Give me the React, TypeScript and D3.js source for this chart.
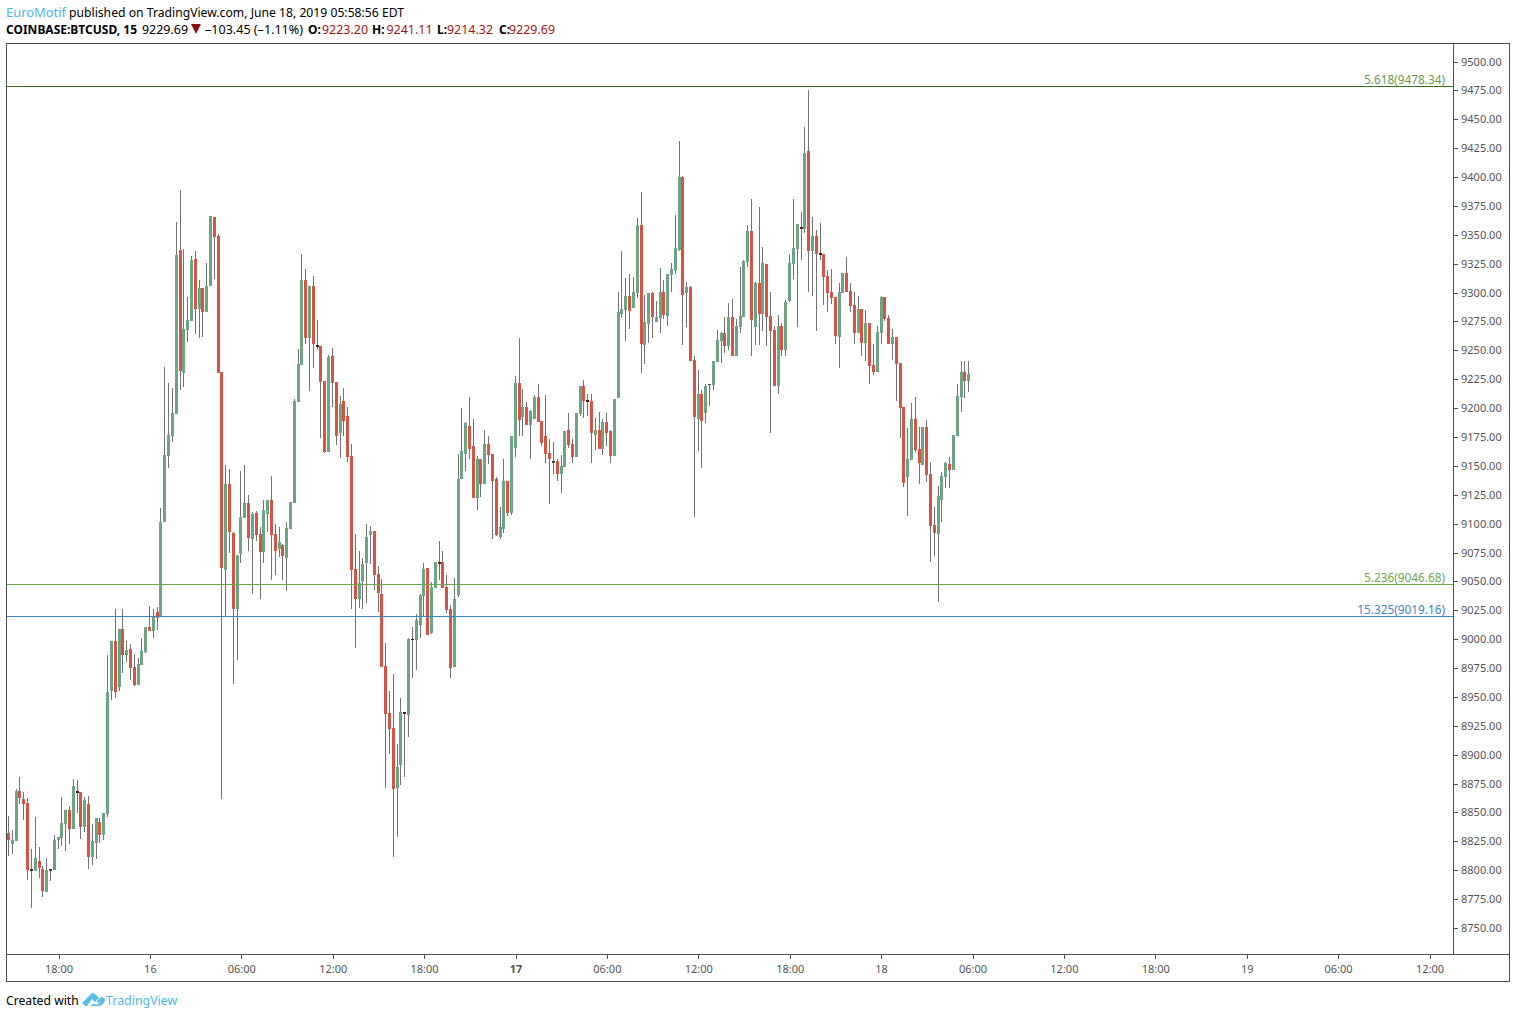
import React from "react";
import * as d3 from "d3";

const opens = [
8832.1,8822.6,8825.2,8868.5,8861.6,8858.1,8801,8799.3,8807.9,8801,
8781.1,8799.3,8800.1,8826,8827.8,8839.9,8852,8835.6,8868.5,8867.6,
8837.3,8857.2,8811.4,8823.5,8841.7,8830.4,8848.6,8955,8998.3,8958.5,
9008.7,8986.2,8991.4,8975.8,8960.2,8977.5,8988.8,9010.4,9007,9023.4,
9020,9101.4,9158.5,9175.8,9194.9,9336.8,9230.4,9267.6,9275.4,9329,
9285.7,9303.9,9283.2,9305.7,9365.4,9349,9231.2,9059.8,9134.2,9091.8,
9026,9073.6,9104.8,9117.8,9086.6,9109.1,9091,9075.4,9108.3,9120.4,
9091,9078,9081.4,9070.2,9095.3,9117.8,9205.3,9237.3,9310.9,9260.6,
9305.6,9254.6,9253.7,9223.4,9162,9245,9222.6,9178.4,9206.1,9193.1,
9158.5,9060.7,9034.7,9050.3,9065.9,9090.1,9093.6,9056.4,9039,8976.7,
8936,8923,8871.1,8891,8936.9,8934.3,9000,8999.2,9012.2,9037.3,
9061.5,9005.2,9044.2,9066.7,9066.7,9045,9026,8975.8,9038.1,9138.6,
9160.3,9184.5,9167.2,9122.2,9155.9,9134.3,9168.9,9160.3,9138.6,9088.4,
9095.4,9136.9,9109.2,9165.5,9221.7,9192.3,9201,9185.4,9190.6,9209.6,
9188.8,9175.9,9161.1,9152.5,9154.2,9143,9149,9181,9168.9,9157.7,
9194.9,9219.1,9207,9206.1,9176.7,9181,9164.6,9188,9180.2,9158.5,
9208.7,9281.4,9284.9,9297,9286.6,9299.6,9358.5,9254.6,9272.8,9299.6,
9274.5,9278,9300.5,9279.7,9315.2,9319.5,9336.8,9400,9299.6,9304.8,
9241.6,9190.6,9212.2,9195.8,9220,9220,9239.9,9258.1,9265,9253.7,
9278.8,9245.1,9270.2,9278.8,9326.4,9353.3,9270.2,9308.3,9281.4,9324.7,
9279.7,9267.6,9219.1,9271,9250.2,9292.7,9324.7,9337.7,9356.7,9355,
9422.5,9335.9,9348.9,9334.2,9333.3,9314.3,9300.4,9296.1,9261.5,9299.6,
9316.9,9301.3,9289.2,9264.9,9285.7,9256.3,9273.6,9237.3,9231.2,9264.9,
9296.1,9278,9255.5,9261.5,9239,9200.9,9140.4,9155.1,9190.6,9164.6,
9150.7,9183.6,9143,9098.8,9091,9120.4,9140.4,9151.6,9146.4,9175.8,
9209.6,9231.2,9223.2];

const closes = [
8826.1,8826,8868.5,8862.4,8857.2,8800.1,8799.3,8810.5,8801.8,8781.9,
8800.1,8801,8826,8828.7,8840.8,8852,8835.6,8872.8,8866.8,8837.3,
8860.7,8811.4,8825.2,8845.1,8830.4,8849.4,8954.2,8998.3,8954.2,9008.7,
8986.2,8990.5,8974.9,8960.2,8978.4,8989.7,9010.4,9007,9020,9018.2,
9101.4,9159.4,9176.7,9195.7,9332.5,9232.1,9268.4,9276.2,9328.2,9285.7,
9303.9,9283.2,9305.7,9366.2,9348,9230.4,9061.5,9134.2,9092.7,9026,
9072.8,9105.7,9117.8,9087.5,9108.3,9090.1,9075.4,9111.7,9120.4,9090.1,
9076.2,9084,9071.9,9096.1,9118.6,9206.1,9238.1,9310.9,9260.7,9305.6,
9255.4,9252.8,9222.6,9162,9244.2,9221.7,9175.8,9203.5,9188.8,9157.6,
9059.8,9034.7,9048.6,9065,9088.4,9093.6,9055.5,9039.9,8975.8,8935.1,
8922.2,8870.2,8889.3,8936.9,8935.1,9000,8999.2,9016.5,9038.1,9060.6,
9003.5,9045,9066.7,9065,9044.2,9025.2,8974.9,9034.7,9138.6,9162.9,
9187.1,9164.6,9122.2,9155.9,9134.3,9168.9,9159.4,9136.9,9090.2,9097.1,
9136.9,9109.2,9175.9,9221.7,9189.7,9201,9185.4,9197.5,9209.6,9188,
9169.8,9160.3,9155.9,9154.2,9143,9149.9,9180.2,9168.1,9157.7,9195.8,
9219.1,9206.1,9205.3,9178.4,9181,9164.6,9188,9178.4,9158.5,9207.9,
9283.2,9285.8,9297,9284,9300.5,9358.5,9255.5,9274.5,9299.6,9278.8,
9278.8,9300.5,9280.6,9316,9320.4,9338.6,9400,9297.9,9304.8,9240.8,
9192.3,9212.2,9188.8,9219.1,9220.9,9240.8,9258.9,9265,9253.7,9278.8,
9245.1,9271,9279.7,9327.3,9353.3,9276.3,9308.3,9281.4,9325.6,9278.8,
9266.7,9219.1,9271,9250.2,9291.8,9325.5,9338.5,9359.3,9355,9420.7,
9335.9,9348.9,9333.3,9332.5,9313.4,9299.6,9295.2,9262.4,9300.4,9316.9,
9300.4,9288.3,9264.9,9285.7,9256.3,9273.6,9236.4,9231.2,9265.8,9296.1,
9277.1,9255.4,9261.5,9238.2,9200.1,9135.2,9156,9190.6,9163.7,9152.5,
9183.6,9142.1,9098,9091.9,9123.9,9141.2,9152.5,9146.4,9176.7,9210.5,
9231.2,9223.4,9229.69];

const highs = [
8846.9,8834.7,8870.2,8880.6,8867.6,8862.4,8818.3,8846,8820,8803.6,
8810.5,8801,8830.4,8828.7,8863.3,8852,8855.5,8878.9,8878,8867.6,
8863.3,8864.2,8839.9,8845.1,8845.1,8849.4,8986.2,8998.3,9026,9008.7,
9026,8998.3,8995.7,8987,8983.6,9000.9,9010.4,9028.6,9026,9028,
9113.5,9235.5,9221.7,9217.4,9361,9388.7,9337.7,9296.1,9331.6,9335.9,
9310.9,9303.9,9325.6,9366.2,9365.4,9350.7,9231.2,9150.7,9147.2,9092.7,
9072.8,9145.5,9150.7,9124.7,9110,9110.9,9097,9120.4,9120.4,9141.2,
9099.6,9097,9082.3,9101.3,9118.6,9207.8,9251.1,9333.4,9320.4,9305.6,
9314.3,9276.2,9253.7,9223.4,9245.9,9252,9222.6,9210.4,9217.4,9200.9,
9168.9,9091,9076.3,9070.2,9099.7,9097.9,9093.6,9063.3,9052,8996.6,
8955,8969.8,8909.2,8949,8936.9,9000.9,9010.4,9021.7,9039,9065.8,
9061.5,9049.4,9066.7,9084.9,9076.2,9055.5,9029.5,9052.9,9160.3,9200.1,
9188,9209.6,9190.6,9158.5,9155.9,9181,9175.9,9160.3,9140.4,9114.4,
9155.9,9136.9,9175.9,9227.8,9260.7,9216.5,9205.3,9198.4,9211.3,9220.9,
9188.8,9211.3,9173.3,9170.7,9155.9,9159.4,9180.2,9195.8,9173.3,9195.8,
9219.1,9224.3,9212.2,9212.2,9191.4,9196.6,9190.6,9195.8,9181,9207.9,
9300.5,9336,9312.6,9316,9313.5,9364.5,9387,9297.9,9299.6,9300.5,
9292.7,9321.3,9310.9,9316,9325.6,9367.1,9431.2,9400.9,9309.1,9305.7,
9245,9233,9215.7,9220.9,9220.9,9240.8,9267.6,9265.9,9278.8,9291,
9294.4,9277.1,9322.1,9328.2,9358.5,9381,9309.1,9374,9339.4,9324.7,
9300.5,9271,9280.6,9273.6,9293.5,9333.3,9380.9,9359.3,9369.7,9443.2,
9475.3,9365.4,9354.1,9360.2,9333.3,9319.5,9320.4,9296.1,9308.2,9316.9,
9330.7,9308.2,9300.4,9297,9285.7,9284.9,9273.6,9255.4,9271,9297,
9296.1,9280.6,9268.4,9261.5,9239,9200.9,9182.8,9204.4,9209.6,9183.6,
9183.6,9189.7,9153.3,9114.4,9132.6,9144.7,9153.3,9157.7,9176.7,9220.8,
9240.7,9240.7,9241.11];

const lows = [
8812.2,8814,8825.2,8857.2,8843.4,8791.5,8767.2,8799.3,8793.2,8776.7,
8781.1,8790.6,8800.1,8818.3,8820.9,8816.6,8822.6,8835.6,8849.4,8827,
8833,8801,8804.4,8809.6,8823.5,8826,8846,8947.3,8949,8955,
8970.6,8980.1,8964.6,8959.4,8960.2,8977.5,8988,9007,9000.9,9007.8,
9020,9101.4,9148.1,9170.6,9194.9,9215.6,9218.2,9257.2,9275.4,9264.1,
9260.7,9261.5,9283.2,9305.7,9311.7,9230.4,8861.6,9020,9074.5,8961.1,
8981.9,9065.9,9104.8,9076.2,9039,9084.9,9034.7,9065.9,9092.7,9051.1,
9055.5,9071,9051.1,9041.6,9095.3,9117.8,9205.3,9237.3,9255.5,9214.8,
9234.7,9251.1,9174.1,9161.1,9162,9200.9,9168,9156.8,9175.8,9153.3,
9026.1,8992.3,9027,9026.1,9031.3,9065,9042.5,9023.5,8975.8,8871.1,
8900.5,8811.4,8828.7,8873.7,8880.6,8915.2,8966.3,8973.2,9000.9,9019.1,
9003.5,9004.4,9044.2,9051.1,9044.2,9022.6,8966.3,8975.8,9036.4,9138.6,
9145.6,9155.9,9122.2,9111.8,9123,9134.3,9151.6,9086.7,9089.3,9086.7,
9091.9,9106.6,9107.5,9157.7,9175.9,9175.9,9185.4,9155.9,9190.6,9188,
9167.2,9152.5,9117,9143,9136.9,9126.5,9149,9165.5,9152.5,9157.7,
9193.2,9191.4,9193.2,9152.5,9163.7,9164.6,9159.4,9167.2,9152.5,9158.5,
9208.7,9278,9258.1,9268.5,9286.6,9295.3,9230.4,9238.2,9256.3,9260.7,
9274.5,9265,9277.1,9271,9300.5,9316,9336,9254.6,9270.2,9240.8,
9105.7,9162.9,9148.1,9187.1,9201.8,9215.7,9239.9,9239,9247.7,9250.3,
9245.1,9245.1,9265,9278.8,9322.1,9245.1,9254.6,9254.6,9266.7,9253.7,
9178.4,9219.1,9212.2,9245,9245,9291.8,9311.7,9270.2,9328.1,9351.5,
9300.4,9297,9266.7,9328.1,9289.2,9283.1,9290.1,9255.4,9234.7,9299.6,
9300.4,9283.1,9255.4,9264.9,9245,9240.7,9220.8,9228.6,9231.2,9255.4,
9275.3,9255.4,9241.6,9206.1,9174.1,9131.7,9106.6,9155.1,9162,9134.3,
9150.7,9136,9066.8,9072,9032.2,9101.4,9130.8,9130.8,9146.4,9175.8,
9196.6,9208.7,9214.32];

const priceTicks = d3.range(8750, 9501, 25);
const timeLabels = ["18:00","16","06:00","12:00","18:00","17","06:00","12:00","18:00","18","06:00","12:00","18:00","19","06:00","12:00"];
const boldLabels = ["17"];
const levelValues = [9478.34, 9046.68, 9019.16];
const levelNames = ["5.618(9478.34)", "5.236(9046.68)", "15.325(9019.16)"];
const levelLine = ["#38761d", "#6aa84f", "#3d85c6"];
const levelText = ["#6a9a50", "#6aa84f", "#3d85c6"];

const UP = "#6BA583", DOWN = "#D75442", UP_DARK = "#225437", DOWN_DARK = "#5B1A13", WICK = "#737375", FRAME = "#4f4f4f";
const FONT = "'Noto Sans', Tahoma, sans-serif";

const y = d3.scaleLinear().domain([8750, 9500]).range([928, 61.5]);
const xBar = d3.scaleLinear().domain([0, 252]).range([8.55, 968.67]);
const xTime = (k: number) => 59 + k * 91.4;

function Candles() {
  return (
    <g shapeRendering="crispEdges">
      {opens.map((o, i) => {
        const c = closes[i];
        const px = Math.floor(xBar(i));
        const up = c >= o;
        const flat = Math.abs(c - o) < 2.2;
        const top = Math.round(y(Math.max(o, c)));
        const bot = Math.round(y(Math.min(o, c)));
        const hi = Math.round(y(highs[i]));
        const lo = Math.round(y(lows[i]));
        const fill = flat ? (up ? UP_DARK : DOWN_DARK) : up ? UP : DOWN;
        return (
          <g key={i}>
            <rect x={px} y={hi} width={1} height={Math.max(lo - hi, 1)} fill={WICK} />
            <rect x={px - 1} y={top} width={3} height={Math.max(bot - top, 1)} fill={fill} />
          </g>
        );
      })}
    </g>
  );
}

function Header() {
  const red = "#a31515";
  const pairs: [string, number, string, number][] = [
    ["O:", 308, "9223.20", 322],
    ["H:", 372, "9241.11", 386.5],
    ["L:", 437, "9214.32", 447],
    ["C:", 499, "9229.69", 509],
  ];
  return (
    <g fontSize={12}>
      <text x={6} y={17} fill="#4db6ea" textLength={60} lengthAdjust="spacingAndGlyphs">EuroMotif</text>
      <text x={69} y={17} fill="#000" textLength={335} lengthAdjust="spacingAndGlyphs">published on TradingView.com, June 18, 2019 05:58:56 EDT</text>
      <text x={6} y={34} fill="#000" fontWeight={700} textLength={131} lengthAdjust="spacingAndGlyphs">COINBASE:BTCUSD, 15</text>
      <text x={142} y={34} fill="#000" textLength={46} lengthAdjust="spacingAndGlyphs">9229.69</text>
      <path d="M191 24H201L196 34Z" fill="#8e1010" />
      <text x={205} y={34} fill="#000" textLength={98} lengthAdjust="spacingAndGlyphs">–103.45 (–1.11%)</text>
      {pairs.map(([k, kx, v, vx]) => (
        <g key={k}>
          <text x={kx} y={34} fill="#000" fontWeight={700}>{k}</text>
          <text x={vx} y={34} fill={red} textLength={46} lengthAdjust="spacingAndGlyphs">{v}</text>
        </g>
      ))}
    </g>
  );
}

export default function App() {
  return (
    <svg width={1516} height={1018} style={{ position: "fixed", left: 0, top: 0, display: "block", background: "#fff" }} fontFamily={FONT}>
      <rect width={1516} height={1018} fill="#fff" />
      <Header />
      <Candles />

      <g shapeRendering="crispEdges">
        {levelValues.map((v, i) => (
          <rect key={i} x={7} y={Math.round(y(v) - 0.9)} width={1446} height={1} fill={levelLine[i]} />
        ))}
      </g>
      {levelValues.map((v, i) => (
        <text key={i} x={1445} y={y(v) - 3} textAnchor="end" fontSize={11.8} fill={levelText[i]}>{levelNames[i]}</text>
      ))}

      <g shapeRendering="crispEdges" fill={FRAME}>
        <rect x={6} y={43} width={1504} height={1} />
        <rect x={6} y={981} width={1504} height={1} />
        <rect x={6} y={43} width={1} height={938} />
        <rect x={1509} y={43} width={1} height={938} />
        <rect x={1453} y={43} width={1} height={911} />
        <rect x={6} y={954} width={1504} height={1} />
        {priceTicks.map((t) => (
          <rect key={t} x={1454} y={Math.round(y(t))} width={4} height={1} />
        ))}
        {timeLabels.map((_, k) => (
          <rect key={k} x={Math.floor(xTime(k))} y={955} width={1} height={4} />
        ))}
      </g>
      {priceTicks.map((t) => (
        <text key={t} x={1461} y={y(t) + 4} fontSize={11} fill="#555">{d3.format(".2f")(t)}</text>
      ))}
      {timeLabels.map((s, k) => (
        <text key={k} x={xTime(k)} y={973} textAnchor="middle" fontSize={11} fill="#555" fontWeight={boldLabels.includes(s) ? 700 : 400}>{s}</text>
      ))}

      <text x={6} y={1005} fontSize={12.2} fill="#000">Created with</text>
      <path d="M82 1003L91 994Q93 992 95 994L99 998L95 1002L92 999L87 1006H85Z M90 1006L94 1003.5L97 1005L105 998L105 1000Q105 1002 103 1004L100 1006Z M97 1001L100 998L102 996.5L105 999.5L98 1003Z" fill="#5bbce8" />
      <text x={106} y={1005} fontSize={12.4} fill="#4db6ea">TradingView</text>
    </svg>
  );
}
